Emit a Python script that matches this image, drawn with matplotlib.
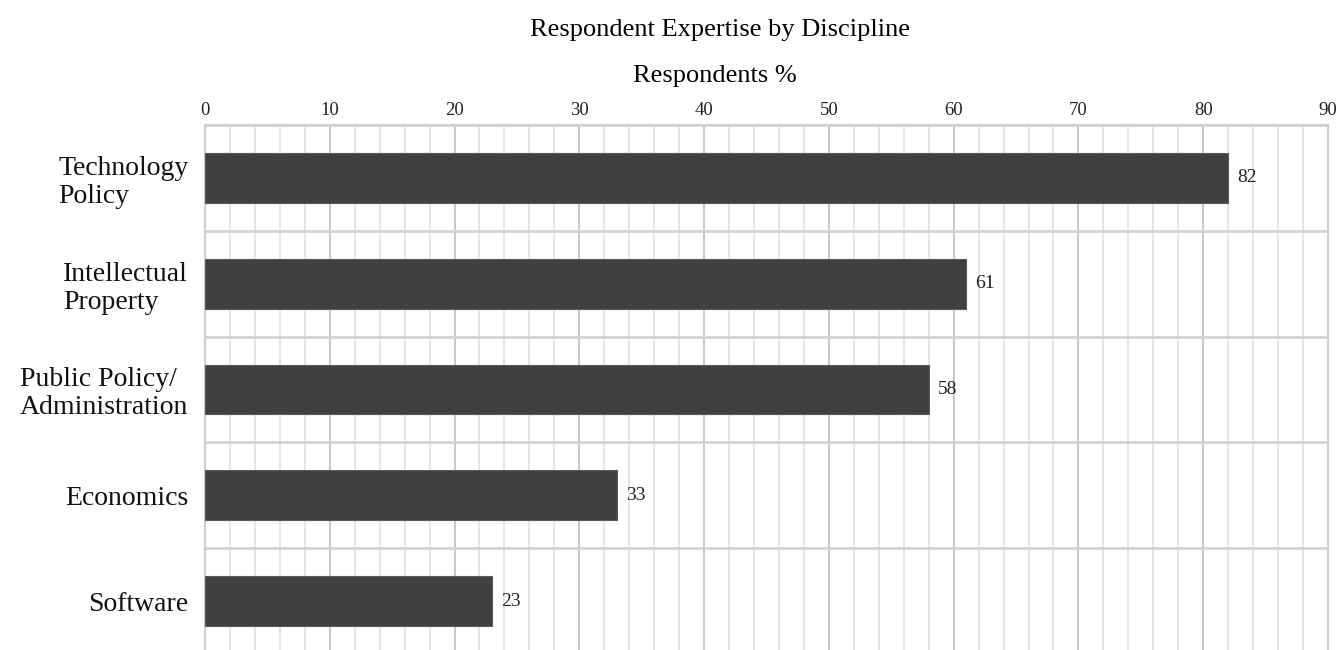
import numpy as np
import matplotlib.pyplot as plt
from matplotlib.ticker import MultipleLocator

# Данные
categories = ["Technology\nPolicy", "Intellectual\nProperty", "Public Policy/\nAdministration",
              "Economics", "Software"]
values = [82, 61, 58, 33, 23]

plt.rcParams['font.family'] = ['Liberation Serif', 'DejaVu Serif']

fig = plt.figure(figsize=(13.38, 6.5), dpi=100)
ax = fig.add_axes([0.1532, -0.006, 0.8393, 0.8137])

y = np.arange(len(categories))
ax.barh(y, values, height=0.47, color='#404040', edgecolor='#5a5a5a', linewidth=0.8, zorder=3)

# подписи значений
for yi, v in zip(y, values):
    ax.text(v + 0.75, yi, str(v), va='center', ha='left', fontsize=14, color='#222222')

ax.set_xlim(0, 90)
ax.set_ylim(len(categories) - 0.5, -0.5)
ax.xaxis.tick_top()
ax.xaxis.set_major_locator(MultipleLocator(10))
ax.xaxis.set_minor_locator(MultipleLocator(2))
ax.tick_params(axis='x', which='both', length=0, labelsize=13.5, pad=4, colors='#222222')

# сетка: вертикальные линии и разделители категорий
ax.grid(axis='x', which='minor', color='#e2e2e2', linewidth=1.2, zorder=0)
ax.grid(axis='x', which='major', color='#c8c8c8', linewidth=1.4, zorder=0)
ax.set_yticks(y)
ax.set_yticklabels(categories, fontsize=20, ha='right', multialignment='left', linespacing=1.15)
ax.set_yticks(np.arange(len(categories) + 1) - 0.5, minor=True)
ax.grid(axis='y', which='minor', color='#d4d4d4', linewidth=2, zorder=0)
ax.tick_params(axis='y', which='both', length=0, pad=12, colors='#111111')

for side in ['top', 'left', 'right']:
    ax.spines[side].set_color('#cfcfcf')
    ax.spines[side].set_linewidth(1.5)
ax.spines['bottom'].set_visible(False)

fig.text(0.538, 0.9446, "Respondent Expertise by Discipline", ha='center', va='baseline', fontsize=19)
fig.text(0.534, 0.8738, "Respondents %", ha='center', va='baseline', fontsize=19)

fig.savefig("out.png", dpi=100)
